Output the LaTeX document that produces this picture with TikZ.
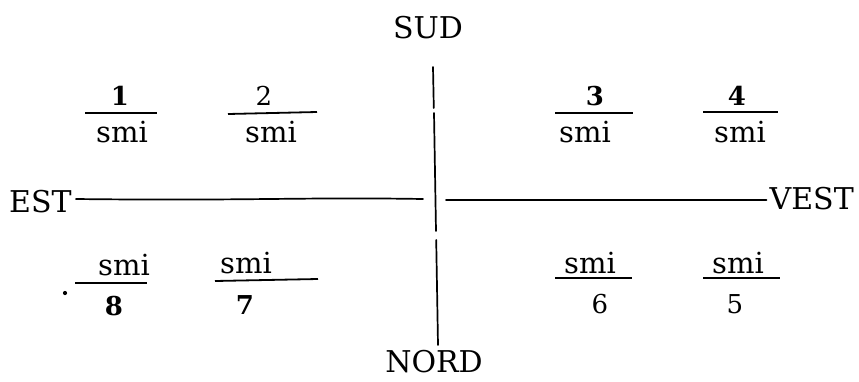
\documentclass[tikz,border=0pt]{standalone}
\usepackage{fontspec}
\setmainfont{DejaVu Serif}
\begin{document}
\begin{tikzpicture}[x=1pt,y=-1pt,
  lbl/.style={inner sep=0pt,anchor=base,font=\fontsize{30}{32}\selectfont},
  smi/.style={inner sep=0pt,anchor=base,font=\fontsize{29}{32}\selectfont},
  num/.style={inner sep=0pt,anchor=base,font=\fontsize{26}{30}\selectfont},
  numb/.style={num,font=\fontsize{26}{30}\selectfont\bfseries},
  axis/.style={line width=1.7pt,line cap=round},
  bar/.style={line width=1.8pt}]
\useasboundingbox (0,0) rectangle (859,381);
% compass labels
\node[lbl] (sud) at (428,38) {SUD};
\node[lbl] (nord) at (434,372) {NORD};
\node[lbl,anchor=base west] (est) at (9,212) {EST};
\node[lbl,anchor=base east] (vest) at (854,209) {VEST};
% axes
\coordinate (lend) at (423,199);
\coordinate (rstart) at (446,200);
\coordinate (v0) at (433,67);
\coordinate (v1) at (433.8,108);
\coordinate (v2) at (434,113);
\coordinate (v3) at (436,231);
\coordinate (v4) at (436.2,240);
\coordinate (v5) at (438,345);
\draw[axis] ([xshift=4pt]est.east |- lend) .. controls (250,201) and (300,197) .. (lend);
\draw[axis] (rstart) -- ([xshift=-3pt]vest.west |- rstart);
\draw[axis] (v0) -- (v1);
\draw[axis] (v2) -- (v3);
\draw[axis] (v4) -- (v5);
% upper fractions
\node[numb] (n1) at (120,105) {1};
\node[smi] (d1) at (122,142) {smi};
\draw[bar] (85,113) coordinate (b1a) -- (157,113) coordinate (b1b);
\node[num] (n2) at (264,105) {2};
\node[smi] (d2) at (271,142) {smi};
\draw[bar] (228,114) coordinate (b2a) -- (317,112) coordinate (b2b);
\node[numb] (n3) at (595,105) {3};
\node[smi] (d3) at (585,142) {smi};
\draw[bar] (555,113) coordinate (b3a) -- (633,113) coordinate (b3b);
\node[numb] (n4) at (737,105) {4};
\node[smi] (d4) at (740,142) {smi};
\draw[bar] (703,112) coordinate (b4a) -- (778,112) coordinate (b4b);
% lower fractions
\node[smi] (u8) at (124,275) {smi};
\node[numb] (n8) at (114,315) {8};
\draw[bar] (75,283) coordinate (b8a) -- (147,283) coordinate (b8b);
\fill (65,293) circle (2.1pt);
\node[smi] (u7) at (246,273) {smi};
\node[numb] (n7) at (245,314) {7};
\draw[bar] (215,281) coordinate (b7a) -- (318,279) coordinate (b7b);
\node[smi] (u6) at (590,273) {smi};
\node[num] (n6) at (600,313) {6};
\draw[bar] (555,278) coordinate (b6a) -- (632,278) coordinate (b6b);
\node[smi] (u5) at (738,273) {smi};
\node[num] (n5) at (735,313) {5};
\draw[bar] (703,278) coordinate (b5a) -- (780,278) coordinate (b5b);
\end{tikzpicture}
\end{document}
